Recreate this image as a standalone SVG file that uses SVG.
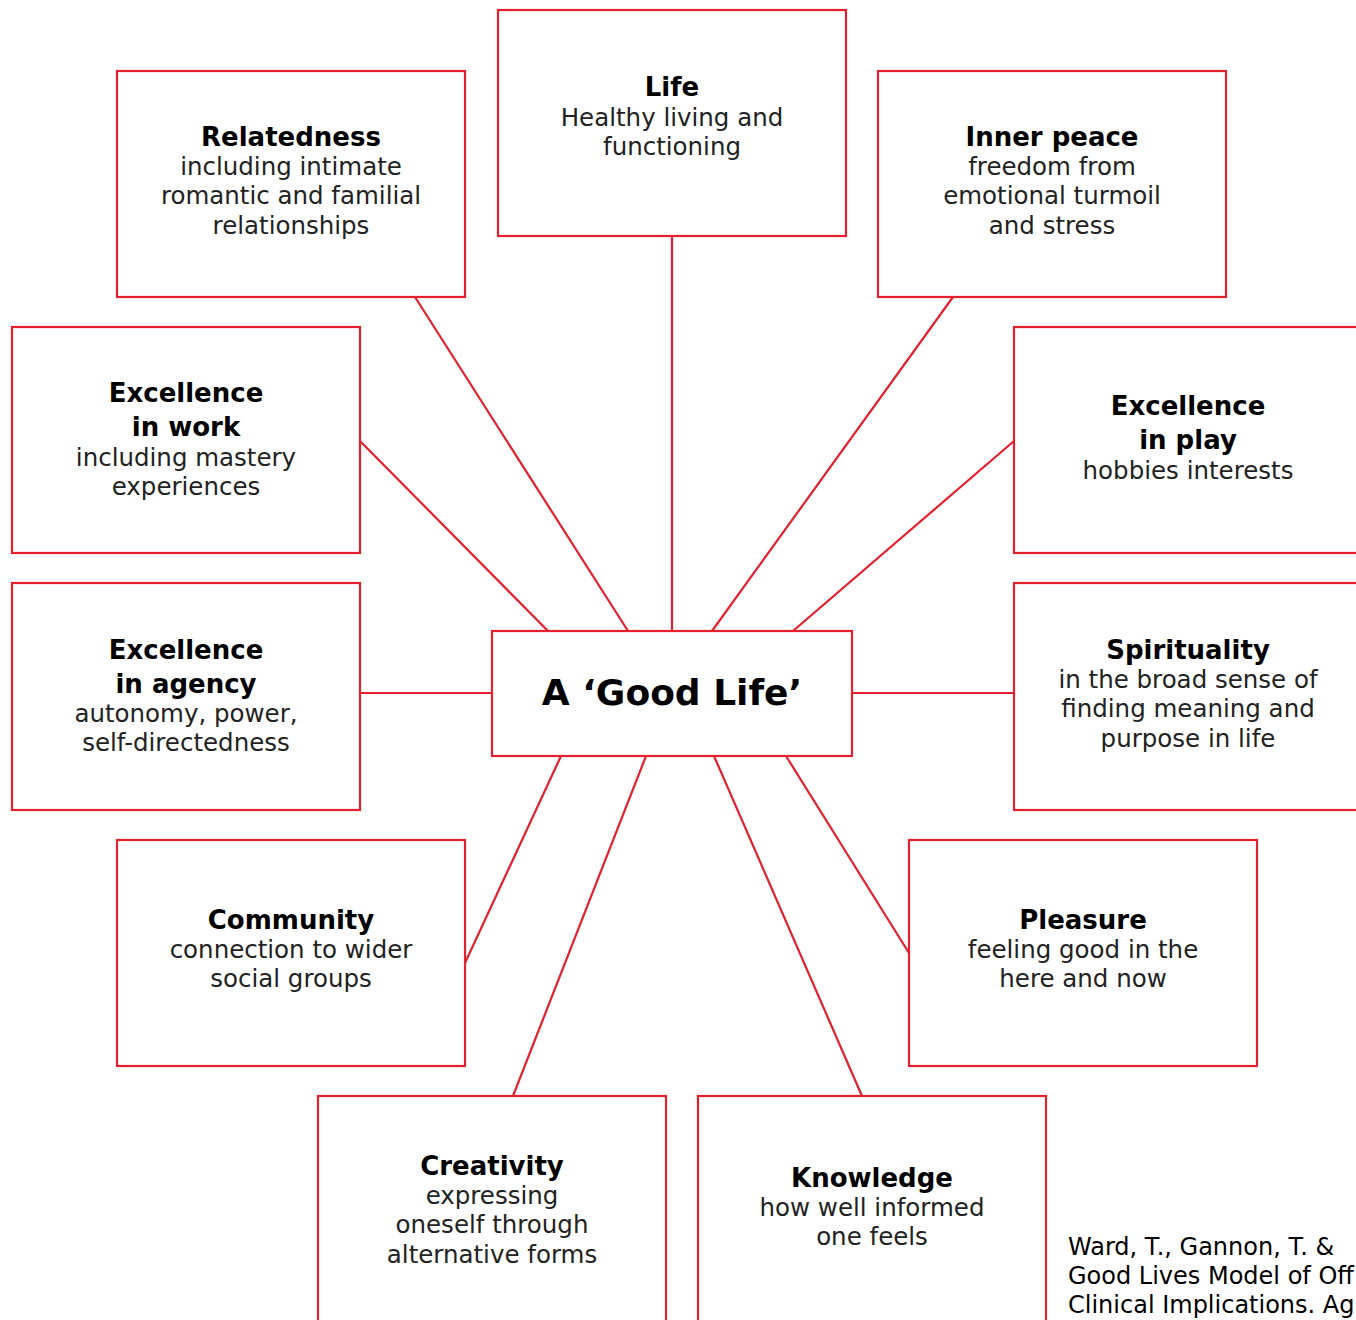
<svg xmlns="http://www.w3.org/2000/svg" width="1356" height="1320" viewBox="0 0 1356 1320">
<style>
.box{fill:#fff;stroke:#e4202e;stroke-width:2.2}
.con line{stroke:#e4202e;stroke-width:2.2}
text{font-family:"DejaVu Sans","Verdana",sans-serif;text-anchor:middle;fill:#222}
.t{font-size:26px;font-weight:bold;fill:#000}
.b{font-size:24.5px;font-weight:normal}
.c{font-size:36px;font-weight:bold;fill:#000}
.cite{font-size:24px;text-anchor:start;fill:#000}
</style>
<rect width="1356" height="1320" fill="#fff"/>
<g id="connectors" class="con">
<line x1="672" y1="236" x2="672" y2="631"/>
<line x1="415" y1="297" x2="628" y2="631"/>
<line x1="953" y1="297" x2="712" y2="631"/>
<line x1="360" y1="441" x2="548" y2="631"/>
<line x1="1014" y1="441" x2="793" y2="631"/>
<line x1="360" y1="693" x2="492" y2="693"/>
<line x1="852" y1="693" x2="1014" y2="693"/>
<line x1="465" y1="963" x2="561" y2="756"/>
<line x1="513" y1="1096" x2="646" y2="756"/>
<line x1="862" y1="1096" x2="714" y2="756"/>
<line x1="909" y1="953" x2="786" y2="756"/>
</g>
<g id="life"><rect class="box" x="498" y="10" width="348" height="226"/>
<text class="t" x="672" y="96">Life</text>
<text class="b" x="672" y="126">Healthy living and</text>
<text class="b" x="672" y="155">functioning</text></g>
<g id="relatedness"><rect class="box" x="117" y="71" width="348" height="226"/>
<text class="t" x="291" y="146">Relatedness</text>
<text class="b" x="291" y="175">including intimate</text>
<text class="b" x="291" y="204">romantic and familial</text>
<text class="b" x="291" y="234">relationships</text></g>
<g id="inner-peace"><rect class="box" x="878" y="71" width="348" height="226"/>
<text class="t" x="1052" y="146">Inner peace</text>
<text class="b" x="1052" y="175">freedom from</text>
<text class="b" x="1052" y="204">emotional turmoil</text>
<text class="b" x="1052" y="234">and stress</text></g>
<g id="excellence-work"><rect class="box" x="12" y="327" width="348" height="226"/>
<text class="t" x="186" y="402">Excellence</text>
<text class="t" x="186" y="436">in work</text>
<text class="b" x="186" y="466">including mastery</text>
<text class="b" x="186" y="495">experiences</text></g>
<g id="excellence-play"><rect class="box" x="1014" y="327" width="348" height="226"/>
<text class="t" x="1188" y="415">Excellence</text>
<text class="t" x="1188" y="449">in play</text>
<text class="b" x="1188" y="479">hobbies interests</text></g>
<g id="excellence-agency"><rect class="box" x="12" y="583" width="348" height="227"/>
<text class="t" x="186" y="659">Excellence</text>
<text class="t" x="186" y="693">in agency</text>
<text class="b" x="186" y="722">autonomy, power,</text>
<text class="b" x="186" y="751">self-directedness</text></g>
<g id="spirituality"><rect class="box" x="1014" y="583" width="348" height="227"/>
<text class="t" x="1188" y="659">Spirituality</text>
<text class="b" x="1188" y="688">in the broad sense of</text>
<text class="b" x="1188" y="717">finding meaning and</text>
<text class="b" x="1188" y="747">purpose in life</text></g>
<g id="good-life"><rect class="box" x="492" y="631" width="360" height="125"/>
<text class="c" x="672" y="705">A ‘Good Life’</text></g>
<g id="community"><rect class="box" x="117" y="840" width="348" height="226"/>
<text class="t" x="291" y="929">Community</text>
<text class="b" x="291" y="958">connection to wider</text>
<text class="b" x="291" y="987">social groups</text></g>
<g id="pleasure"><rect class="box" x="909" y="840" width="348" height="226"/>
<text class="t" x="1083" y="929">Pleasure</text>
<text class="b" x="1083" y="958">feeling good in the</text>
<text class="b" x="1083" y="987">here and now</text></g>
<g id="creativity"><rect class="box" x="318" y="1096" width="348" height="240"/>
<text class="t" x="492" y="1175">Creativity</text>
<text class="b" x="492" y="1204">expressing</text>
<text class="b" x="492" y="1233">oneself through</text>
<text class="b" x="492" y="1263">alternative forms</text></g>
<g id="knowledge"><rect class="box" x="698" y="1096" width="348" height="240"/>
<text class="t" x="872" y="1187">Knowledge</text>
<text class="b" x="872" y="1216">how well informed</text>
<text class="b" x="872" y="1245">one feels</text></g>
<g id="citation">
<text class="cite" x="1068" y="1255">Ward, T., Gannon, T. &amp;</text>
<text class="cite" x="1068" y="1284">Good Lives Model of Off</text>
<text class="cite" x="1068" y="1313">Clinical Implications. Ag</text>
</g>
</svg>
